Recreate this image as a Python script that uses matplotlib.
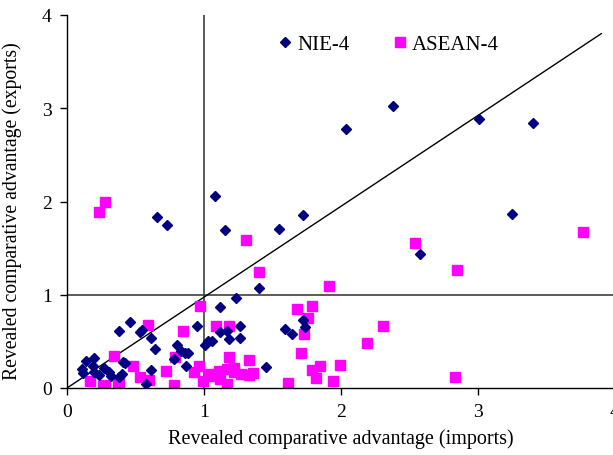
import matplotlib.pyplot as plt

# Dados (RCA importações x RCA exportações)
nie_x = [2.04, 2.38, 3.01, 3.40, 3.25, 2.58, 0.66, 0.73, 1.08, 1.15, 1.55, 1.72,
         1.40, 1.23, 1.12, 0.46, 0.38, 0.53, 0.55, 0.61, 0.64, 0.80, 0.83, 0.86,
         0.88, 0.78, 0.87, 0.95, 1.01, 1.03, 1.06, 1.12, 1.17, 1.18, 1.26, 1.26,
         1.45, 1.59, 1.64, 1.72, 1.74, 0.61, 0.58, 0.14, 0.20, 0.11, 0.12, 0.19,
         0.20, 0.23, 0.27, 0.31, 0.32, 0.41, 0.42, 0.40, 0.38]
nie_y = [2.78, 3.02, 2.89, 2.84, 1.87, 1.44, 1.83, 1.75, 2.06, 1.69, 1.70, 1.86,
         1.07, 0.96, 0.87, 0.71, 0.61, 0.60, 0.62, 0.54, 0.42, 0.46, 0.40, 0.38,
         0.38, 0.31, 0.24, 0.67, 0.46, 0.50, 0.50, 0.60, 0.61, 0.53, 0.66, 0.54,
         0.23, 0.63, 0.58, 0.73, 0.65, 0.19, 0.04, 0.29, 0.32, 0.20, 0.16, 0.24,
         0.17, 0.14, 0.21, 0.17, 0.13, 0.28, 0.27, 0.15, 0.12]

asean_x = [0.28, 0.23, 1.31, 1.40, 1.91, 2.54, 2.85, 3.77, 0.97, 1.68, 1.79, 1.76,
           1.73, 1.71, 1.79, 1.82, 1.85, 1.94, 1.99, 2.31, 2.19, 2.83, 1.61, 0.59,
           0.85, 0.79, 0.72, 0.96, 0.93, 0.53, 0.60, 0.78, 0.99, 1.04, 0.34, 0.48,
           0.17, 0.26, 0.28, 0.37, 0.38, 1.09, 1.18, 1.18, 1.33, 1.07, 1.11, 1.12,
           1.17, 1.22, 1.22, 1.27, 1.33, 1.36, 1.17]
asean_y = [2.00, 1.89, 1.59, 1.24, 1.09, 1.55, 1.27, 1.67, 0.88, 0.85, 0.88, 0.75,
           0.58, 0.38, 0.19, 0.11, 0.24, 0.07, 0.25, 0.66, 0.48, 0.12, 0.05, 0.68,
           0.61, 0.33, 0.18, 0.24, 0.17, 0.12, 0.09, 0.03, 0.07, 0.15, 0.34, 0.24,
           0.07, 0.02, 0.03, 0.02, 0.06, 0.67, 0.66, 0.33, 0.30, 0.13, 0.18, 0.10,
           0.20, 0.21, 0.17, 0.15, 0.14, 0.16, 0.04]

# Linha diagonal
diag_x = [0, 3.9]
diag_y = [0, 3.8]

plt.rcParams['font.family'] = ['Liberation Serif', 'DejaVu Serif']

fig = plt.figure(figsize=(6.13, 4.56), dpi=100)
ax = fig.add_axes([67 / 613, 67 / 456, 548 / 613, 373 / 456])

ax.axhline(1, color='#404040', lw=1.2, zorder=1)
ax.axvline(1, color='#404040', lw=1.2, zorder=1)
ax.plot(diag_x, diag_y, color='black', lw=1, zorder=1)

ax.plot(nie_x, nie_y, 'D', color='#000080', ms=5.2, mec='#000080', label='NIE-4', zorder=3)
ax.plot(asean_x, asean_y, 's', color='#FF00FF', ms=7, mec='#FF00FF', label='ASEAN-4', zorder=2)

ax.set_xlim(0, 4)
ax.set_ylim(0, 4)
ax.set_xticks([0, 1, 2, 3, 4])
ax.set_yticks([0, 1, 2, 3, 4])
ax.tick_params(direction='out', length=5, width=1, labelsize=14, pad=6)
for s in ['top', 'right']:
    ax.spines[s].set_visible(False)
for s in ['left', 'bottom']:
    ax.spines[s].set_linewidth(1)

ax.set_xlabel('Revealed comparative advantage (imports)', fontsize=14.5, labelpad=6)
ax.set_ylabel('Revealed comparative advantage (exports)', fontsize=14.2)
ax.yaxis.set_label_coords(-0.082, 0.477)

ax.legend(loc='center left', bbox_to_anchor=(266 / 613, 1 - 45 / 456),
          bbox_transform=fig.transFigure, ncol=2, frameon=False, fontsize=15,
          handletextpad=0.1, columnspacing=1.9, handlelength=1, borderaxespad=0)

fig.savefig('out.png', dpi=100)
